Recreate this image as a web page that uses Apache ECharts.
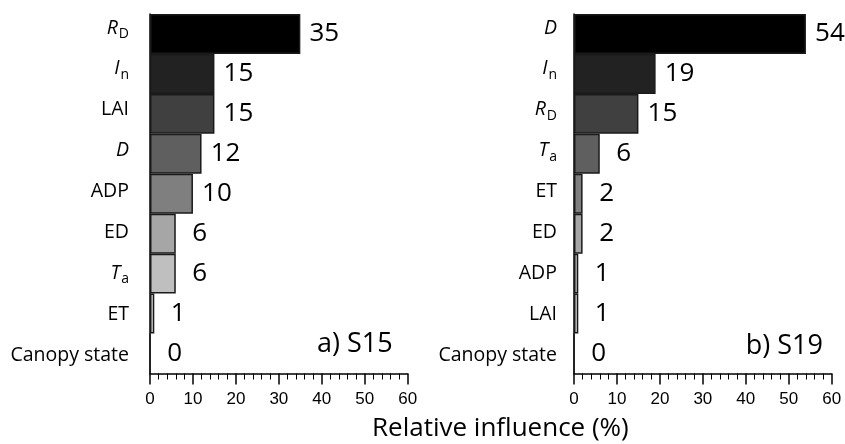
<!DOCTYPE html>
<html>
<head>
<meta charset="utf-8">
<script src="https://cdn.jsdelivr.net/npm/echarts@6/dist/echarts.min.js"></script>
<style>
  html, body { margin: 0; padding: 0; background: #fff; }
  #chart { width: 845px; height: 444px; }
</style>
</head>
<body>
<div id="chart"></div>
<script>
// Predictor names: a leading '*' marks an italic symbol, '_' starts its subscript.
const catsS15 = ['*R_D', '*I_n', 'LAI', '*D', 'ADP', 'ED', '*T_a', 'ET', 'Canopy state'];
const valsS15 = [35, 15, 15, 12, 10, 6, 6, 1, 0];

const catsS19 = ['*D', '*I_n', '*R_D', '*T_a', 'ET', 'ED', 'ADP', 'LAI', 'Canopy state'];
const valsS19 = [54, 19, 15, 6, 2, 2, 1, 1, 0];

const panelTitles = ['a) S15', 'b) S19'];
const axisTitle = 'Relative influence (%)';
const xMin = 0, xMax = 60, xStep = 10;

// Grey ramp, darkest for the most influential predictor
const greys = ['#000000', '#222222', '#404040', '#5f5f5f', '#7f7f7f', '#a6a6a6', '#bfbfbf', '#d9d9d9', '#f2f2f2'];

const SANS = '"Open Sans", "Noto Sans", sans-serif';
const ARIAL = '"Liberation Sans", Arial, sans-serif';

function catLabel(s) {
  if (s[0] !== '*') return '{n|' + s + '}';
  const parts = s.slice(1).split('_');
  return '{it|' + parts[0] + '}' + (parts[1] ? '{sub|' + parts[1] + '}' : '');
}

const richCat = {
  n:   { fontFamily: SANS, fontSize: 19.5, color: '#000', lineHeight: 26 },
  it:  { fontFamily: SANS, fontSize: 19.5, fontStyle: 'italic', color: '#000', lineHeight: 26 },
  sub: { fontFamily: SANS, fontSize: 14, color: '#000', lineHeight: 14, verticalAlign: 'bottom', padding: [0, 0, 0, 1] }
};

const plotW = 257.7, plotH = 359.5, plotTop = 14;
const panelLeft = [150, 574];
const labelMargin = [21, 17];

function valueAxis(gi) {
  return {
    gridIndex: gi, type: 'value', min: xMin, max: xMax, interval: xStep,
    axisLine: { show: true, onZero: false, lineStyle: { color: '#000', width: 1.5 } },
    axisTick: { show: true, length: 11, lineStyle: { color: '#000', width: 1.5 } },
    minorTick: { show: true, splitNumber: 5, length: 6, lineStyle: { color: '#000', width: 1 } },
    splitLine: { show: false },
    axisLabel: { margin: 17, fontFamily: ARIAL, fontSize: 17, color: '#000' }
  };
}

function barAxis(gi, cats) {
  return {
    gridIndex: gi, type: 'category', data: cats, inverse: true,
    axisLine: { show: true, lineStyle: { color: '#000', width: 1.5 } },
    axisTick: { show: false },
    axisLabel: { show: false }
  };
}

function nameAxis(gi, cats, margin) {
  return {
    gridIndex: gi, type: 'category', data: cats, inverse: true,
    axisLine: { show: false }, axisTick: { show: false },
    axisLabel: { margin: margin, formatter: catLabel, rich: richCat }
  };
}

function barSeries(idx, vals) {
  return {
    type: 'bar', xAxisIndex: idx, yAxisIndex: idx,
    barCategoryGap: '0%',
    data: vals.map((v, i) => ({ value: v, itemStyle: { color: greys[i] } })),
    itemStyle: { borderColor: '#1a1a1a', borderWidth: 1.5 },
    label: {
      show: true, position: 'right', distance: 24, align: 'center',
      fontFamily: SANS, fontSize: 26, color: '#000'
    }
  };
}

const chart = echarts.init(document.getElementById('chart'), null, { renderer: 'canvas' });

chart.setOption({
  animation: false,
  backgroundColor: '#fff',
  grid: [
    { left: panelLeft[0], top: plotTop, width: plotW, height: plotH },
    { left: panelLeft[1], top: plotTop, width: plotW, height: plotH },
    // name rows sit on a slightly taller band than the bars
    { left: panelLeft[0], top: 7.5, width: plotW, height: 368 },
    { left: panelLeft[1], top: 7.5, width: plotW, height: 368 }
  ],
  xAxis: [
    valueAxis(0), valueAxis(1),
    { gridIndex: 2, type: 'value', min: 0, max: 1, show: false },
    { gridIndex: 3, type: 'value', min: 0, max: 1, show: false }
  ],
  yAxis: [
    barAxis(0, catsS15), barAxis(1, catsS19),
    nameAxis(2, catsS15, labelMargin[0]), nameAxis(3, catsS19, labelMargin[1])
  ],
  series: [barSeries(0, valsS15), barSeries(1, valsS19)],
  graphic: [
    { type: 'text', right: 845 - 392.7, top: 331,
      style: { text: panelTitles[0], font: '27px ' + SANS, fill: '#000' } },
    { type: 'text', right: 845 - 823, top: 333,
      style: { text: panelTitles[1], font: '27px ' + SANS, fill: '#000' } },
    { type: 'text', left: 372, top: 416,
      style: { text: axisTitle, font: '26px ' + SANS, fill: '#000' } }
  ]
});
</script>
</body>
</html>
